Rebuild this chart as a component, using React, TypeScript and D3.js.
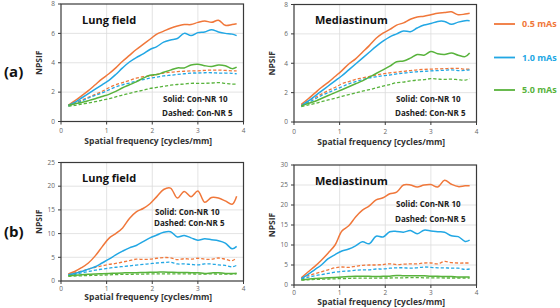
import { useEffect, useRef } from 'react';
import * as d3 from 'd3';

// Sampling frequencies (cycles/mm) shared by every curve
const freq = [0.16, 0.3, 0.45, 0.6, 0.75, 0.9, 1.05, 1.2, 1.35, 1.5, 1.65, 1.8, 1.95, 2.1, 2.25, 2.4, 2.55, 2.7, 2.85, 3.0, 3.15, 3.3, 3.45, 3.6, 3.75, 3.85];

const doseLabels = ['0.5 mAs', '1.0 mAs', '5.0 mAs'];
const doseColors = ['#F0773A', '#22A7E4', '#58B33C'];

// (a) Lung field
const aLungSolid = [
  [1.1, 1.4, 1.75, 2.1, 2.5, 2.9, 3.25, 3.65, 4.1, 4.5, 4.9, 5.25, 5.6, 5.95, 6.15, 6.35, 6.5, 6.6, 6.6, 6.75, 6.85, 6.75, 6.9, 6.55, 6.6, 6.65],
  [1.1, 1.3, 1.6, 1.9, 2.2, 2.5, 2.8, 3.2, 3.65, 4.05, 4.35, 4.6, 4.9, 5.1, 5.4, 5.55, 5.65, 6.0, 5.85, 6.05, 6.1, 6.25, 6.1, 6.0, 5.95, 5.85],
  [1.1, 1.2, 1.3, 1.42, 1.55, 1.7, 1.85, 2.05, 2.3, 2.5, 2.7, 2.95, 3.15, 3.2, 3.35, 3.5, 3.65, 3.65, 3.85, 3.9, 3.8, 3.75, 3.85, 3.8, 3.6, 3.7],
];
const aLungDashed = [
  [1.1, 1.25, 1.45, 1.65, 1.85, 2.05, 2.3, 2.5, 2.65, 2.8, 2.95, 3.05, 3.1, 3.2, 3.3, 3.35, 3.4, 3.42, 3.45, 3.45, 3.48, 3.5, 3.5, 3.48, 3.45, 3.45],
  [1.05, 1.2, 1.4, 1.6, 1.78, 1.95, 2.15, 2.35, 2.5, 2.62, 2.75, 2.85, 2.95, 3.02, 3.1, 3.15, 3.2, 3.25, 3.3, 3.3, 3.32, 3.32, 3.3, 3.3, 3.28, 3.25],
  [1.05, 1.1, 1.18, 1.26, 1.35, 1.45, 1.55, 1.68, 1.8, 1.92, 2.03, 2.13, 2.25, 2.32, 2.4, 2.47, 2.52, 2.55, 2.6, 2.6, 2.6, 2.62, 2.65, 2.6, 2.55, 2.55],
];

// (a) Mediastinum
const aMedSolid = [
  [1.2, 1.55, 1.95, 2.35, 2.7, 3.1, 3.5, 3.95, 4.3, 4.75, 5.2, 5.7, 6.05, 6.3, 6.6, 6.75, 7.0, 7.15, 7.2, 7.3, 7.4, 7.45, 7.5, 7.3, 7.35, 7.4],
  [1.1, 1.4, 1.75, 2.1, 2.45, 2.8, 3.15, 3.55, 3.95, 4.35, 4.75, 5.15, 5.5, 5.8, 6.0, 6.2, 6.15, 6.4, 6.6, 6.7, 6.85, 6.85, 6.65, 6.8, 6.9, 6.9],
  [1.1, 1.25, 1.4, 1.6, 1.8, 2.0, 2.2, 2.4, 2.6, 2.8, 3.05, 3.3, 3.55, 3.8, 4.1, 4.15, 4.35, 4.6, 4.55, 4.8, 4.65, 4.6, 4.7, 4.55, 4.45, 4.7],
];
const aMedDashed = [
  [1.15, 1.4, 1.65, 1.9, 2.15, 2.35, 2.6, 2.75, 2.9, 3.0, 3.1, 3.2, 3.28, 3.35, 3.4, 3.45, 3.5, 3.55, 3.58, 3.6, 3.62, 3.63, 3.65, 3.65, 3.6, 3.6],
  [1.1, 1.3, 1.55, 1.8, 2.0, 2.2, 2.4, 2.6, 2.75, 2.88, 3.0, 3.08, 3.15, 3.2, 3.28, 3.33, 3.38, 3.42, 3.45, 3.48, 3.5, 3.52, 3.55, 3.5, 3.52, 3.55],
  [1.05, 1.15, 1.25, 1.38, 1.5, 1.62, 1.75, 1.87, 1.98, 2.1, 2.2, 2.32, 2.45, 2.55, 2.68, 2.72, 2.8, 2.85, 2.88, 2.95, 2.92, 2.9, 2.92, 2.88, 2.85, 2.95],
];

// (b) Lung field
const bLungSolid = [
  [1.5, 2.0, 2.8, 3.8, 5.3, 7.2, 9.0, 10.0, 11.2, 13.2, 14.6, 15.3, 16.3, 17.8, 19.3, 19.6, 17.5, 18.9, 17.8, 19.0, 16.6, 17.6, 17.5, 16.9, 16.2, 17.9],
  [1.3, 1.6, 2.0, 2.5, 3.0, 3.8, 4.6, 5.5, 6.3, 7.0, 7.5, 8.3, 9.1, 9.7, 10.3, 10.4, 9.3, 9.6, 9.1, 8.6, 8.9, 8.7, 8.5, 8.0, 6.8, 7.3],
  [1.1, 1.2, 1.3, 1.4, 1.5, 1.55, 1.6, 1.65, 1.7, 1.75, 1.75, 1.8, 1.85, 1.85, 1.9, 1.85, 1.8, 1.8, 1.75, 1.75, 1.6, 1.7, 1.75, 1.6, 1.6, 1.65],
];
const bLungDashed = [
  [1.4, 1.7, 2.1, 2.5, 2.9, 3.2, 3.5, 3.7, 4.0, 4.3, 4.6, 4.55, 4.6, 4.8, 4.95, 4.9, 4.5, 4.7, 4.6, 4.8, 4.6, 4.6, 4.85, 4.6, 4.3, 4.9],
  [1.2, 1.4, 1.7, 2.0, 2.3, 2.5, 2.7, 2.9, 3.05, 3.2, 3.35, 3.5, 3.65, 3.8, 3.9, 3.95, 3.6, 3.6, 3.5, 3.4, 3.6, 3.6, 3.4, 3.3, 3.0, 3.3],
  [1.0, 1.05, 1.1, 1.15, 1.2, 1.25, 1.3, 1.35, 1.4, 1.4, 1.45, 1.45, 1.5, 1.5, 1.5, 1.5, 1.5, 1.5, 1.5, 1.45, 1.45, 1.5, 1.45, 1.45, 1.45, 1.5],
];

// (b) Mediastinum
const bMedSolid = [
  [1.8, 3.2, 4.6, 6.2, 8.0, 10.0, 13.5, 14.8, 17.0, 18.7, 19.8, 21.3, 21.8, 22.8, 23.2, 25.0, 25.0, 24.5, 25.0, 25.1, 24.5, 26.2, 25.2, 24.6, 24.8, 24.8],
  [1.6, 2.6, 3.8, 5.0, 6.6, 7.6, 8.5, 9.0, 9.8, 10.8, 10.3, 12.2, 12.0, 13.3, 13.4, 13.2, 13.6, 12.8, 13.7, 13.5, 13.3, 13.2, 12.3, 12.1, 10.9, 11.2],
  [1.3, 1.45, 1.6, 1.7, 1.8, 1.9, 2.0, 2.1, 2.2, 2.2, 2.2, 2.1, 2.2, 2.2, 2.4, 2.3, 2.3, 2.3, 2.3, 2.2, 2.2, 2.1, 2.1, 2.0, 2.0, 2.0],
];
const bMedDashed = [
  [1.8, 2.3, 2.8, 3.3, 3.8, 4.3, 4.5, 4.4, 4.7, 4.9, 5.0, 5.0, 5.1, 5.3, 5.1, 5.2, 5.3, 5.3, 5.5, 5.5, 5.3, 5.9, 5.6, 5.5, 5.5, 5.5],
  [1.5, 1.9, 2.3, 2.6, 2.9, 3.2, 3.4, 3.5, 3.7, 3.8, 3.8, 4.0, 4.0, 4.2, 4.3, 4.3, 4.2, 4.3, 4.5, 4.4, 4.3, 4.3, 4.2, 4.2, 3.9, 4.0],
  [1.2, 1.3, 1.4, 1.45, 1.5, 1.55, 1.6, 1.65, 1.7, 1.7, 1.7, 1.7, 1.75, 1.75, 1.8, 1.8, 1.85, 1.85, 1.8, 1.8, 1.8, 1.75, 1.75, 1.75, 1.75, 1.75],
];

const xTicks = [0, 1, 2, 3, 4];

const FONT = '"Open Sans", "Segoe UI", sans-serif';

interface Panel {
  title: string;
  solid: number[][];
  dashed: number[][];
  yMax: number;
  yStep: number;
  left: number;
  right: number;
  top: number;
  bottom: number;
  tickGap: number;
  titleGap: number;
  yTitleX: number;
  noteX: number;
  noteY: [number, number];
}

const panels: Panel[] = [
  { title: 'Lung field', solid: aLungSolid, dashed: aLungDashed, yMax: 8, yStep: 2,
    left: 61, right: 243.5, top: 4, bottom: 121.5, tickGap: 9.5, titleGap: 20, yTitleX: 39, noteX: 163, noteY: [99, 113] },
  { title: 'Mediastinum', solid: aMedSolid, dashed: aMedDashed, yMax: 8, yStep: 2,
    left: 294, right: 476.5, top: 4.5, bottom: 122, tickGap: 9.5, titleGap: 20, yTitleX: 272, noteX: 396, noteY: [99, 113] },
  { title: 'Lung field', solid: bLungSolid, dashed: bLungDashed, yMax: 25, yStep: 5,
    left: 61, right: 243.5, top: 162.5, bottom: 281, tickGap: 7.5, titleGap: 16.5, yTitleX: 39, noteX: 155, noteY: [212, 223] },
  { title: 'Mediastinum', solid: bMedSolid, dashed: bMedDashed, yMax: 30, yStep: 5,
    left: 294, right: 476.5, top: 165, bottom: 285, tickGap: 7.5, titleGap: 17.5, yTitleX: 272, noteX: 396, noteY: [204, 219] },
];

export default function App() {
  const svgRef = useRef<SVGSVGElement>(null);

  useEffect(() => {
    if (!svgRef.current) return;
    const svg = d3.select(svgRef.current);
    svg.selectAll('*').remove();

    panels.forEach(p => {
      const x = d3.scaleLinear().domain([0, 4]).range([p.left, p.right]);
      const y = d3.scaleLinear().domain([0, p.yMax]).range([p.bottom, p.top]);
      const yTicks = d3.range(0, p.yMax + 0.001, p.yStep);
      const g = svg.append('g');

      // gridlines
      g.selectAll('.vgrid').data(xTicks.slice(1, -1)).join('line')
        .attr('x1', d => x(d)).attr('x2', d => x(d))
        .attr('y1', p.top).attr('y2', p.bottom)
        .attr('stroke', '#dcdcdc').attr('stroke-width', 0.8);
      g.selectAll('.hgrid').data(yTicks.slice(1, -1)).join('line')
        .attr('y1', d => y(d)).attr('y2', d => y(d))
        .attr('x1', p.left).attr('x2', p.right)
        .attr('stroke', '#dcdcdc').attr('stroke-width', 0.8);

      // curves: dashed first, solid on top
      const line = d3.line<number>()
        .x((_, i) => x(freq[i]))
        .y(d => y(d))
        .curve(d3.curveCatmullRom.alpha(0.5));

      p.dashed.forEach((vals, k) => {
        g.append('path')
          .attr('d', line(vals))
          .attr('fill', 'none')
          .attr('stroke', doseColors[k])
          .attr('stroke-width', 1.3)
          .attr('stroke-dasharray', '3.2,2');
      });
      p.solid.forEach((vals, k) => {
        g.append('path')
          .attr('d', line(vals))
          .attr('fill', 'none')
          .attr('stroke', doseColors[k])
          .attr('stroke-width', 1.5);
      });

      // frame
      g.append('rect')
        .attr('x', p.left).attr('y', p.top)
        .attr('width', p.right - p.left).attr('height', p.bottom - p.top)
        .attr('fill', 'none').attr('stroke', '#3a3a3a').attr('stroke-width', 1.2);

      // tick marks and labels
      g.selectAll('.xt').data(xTicks).join('line')
        .attr('x1', d => x(d)).attr('x2', d => x(d))
        .attr('y1', p.bottom).attr('y2', p.bottom + 3)
        .attr('stroke', '#3a3a3a').attr('stroke-width', 1);
      g.selectAll('.xl').data(xTicks).join('text')
        .attr('x', d => x(d)).attr('y', p.bottom + p.tickGap)
        .attr('dy', '0.35em')
        .attr('text-anchor', 'middle')
        .attr('font-family', FONT).attr('font-size', '6.5px').attr('fill', '#666')
        .text(d => d);
      g.selectAll('.yt').data(yTicks).join('line')
        .attr('y1', d => y(d)).attr('y2', d => y(d))
        .attr('x1', p.left - 3).attr('x2', p.left)
        .attr('stroke', '#3a3a3a').attr('stroke-width', 1);
      g.selectAll('.yl').data(yTicks).join('text')
        .attr('x', p.left - 6).attr('y', d => y(d))
        .attr('dy', '0.35em')
        .attr('text-anchor', 'end')
        .attr('font-family', FONT).attr('font-size', '6.5px').attr('fill', '#666')
        .text(d => d);

      // axis titles
      g.append('text')
        .attr('x', (p.left + p.right) / 2 - 4).attr('y', p.bottom + p.titleGap)
        .attr('dy', '0.35em')
        .attr('text-anchor', 'middle')
        .attr('font-family', FONT).attr('font-size', '8.5px').attr('font-weight', 700).attr('fill', '#333')
        .text('Spatial frequency [cycles/mm]');
      g.append('text')
        .attr('transform', `translate(${p.yTitleX},${(p.top + p.bottom) / 2}) rotate(-90)`)
        .attr('dy', '0.35em')
        .attr('text-anchor', 'middle')
        .attr('font-family', FONT).attr('font-size', '8.5px').attr('font-weight', 700).attr('fill', '#333')
        .text('NPSIF');

      // panel title and line-style note
      g.append('text')
        .attr('x', p.left + 21).attr('y', p.top + 16)
        .attr('dy', '0.35em')
        .attr('font-family', FONT).attr('font-size', '11px').attr('font-weight', 700).attr('fill', '#111')
        .text(p.title);
      ['Solid: Con-NR 10', 'Dashed: Con-NR 5'].forEach((t, i) => {
        g.append('text')
          .attr('x', p.noteX - (i === 1 ? 1 : 0)).attr('y', p.noteY[i])
          .attr('dy', '0.35em')
          .attr('font-family', FONT).attr('font-size', '8px').attr('font-weight', 700).attr('fill', '#222')
          .text(t);
      });
    });

    // row labels
    [['(a)', 72], ['(b)', 232]].forEach(([t, yy]) => {
      svg.append('text')
        .attr('x', 4).attr('y', yy as number)
        .attr('dy', '0.35em')
        .attr('font-family', FONT).attr('font-size', '15px').attr('font-weight', 700).attr('fill', '#111')
        .text(t as string);
    });

    // legend
    const legendY = [24, 57.5, 90];
    doseLabels.forEach((label, k) => {
      svg.append('line')
        .attr('x1', 494).attr('x2', 515)
        .attr('y1', legendY[k]).attr('y2', legendY[k])
        .attr('stroke', doseColors[k]).attr('stroke-width', 1.8);
      svg.append('text')
        .attr('x', 522).attr('y', legendY[k])
        .attr('dy', '0.35em')
        .attr('font-family', FONT).attr('font-size', '9px').attr('font-weight', 700)
        .attr('fill', doseColors[k])
        .text(label);
    });
  }, []);

  return (
    <svg
      ref={svgRef}
      width={560}
      height={308}
      style={{ position: 'absolute', left: 0, top: 0, background: '#fff' }}
    />
  );
}
